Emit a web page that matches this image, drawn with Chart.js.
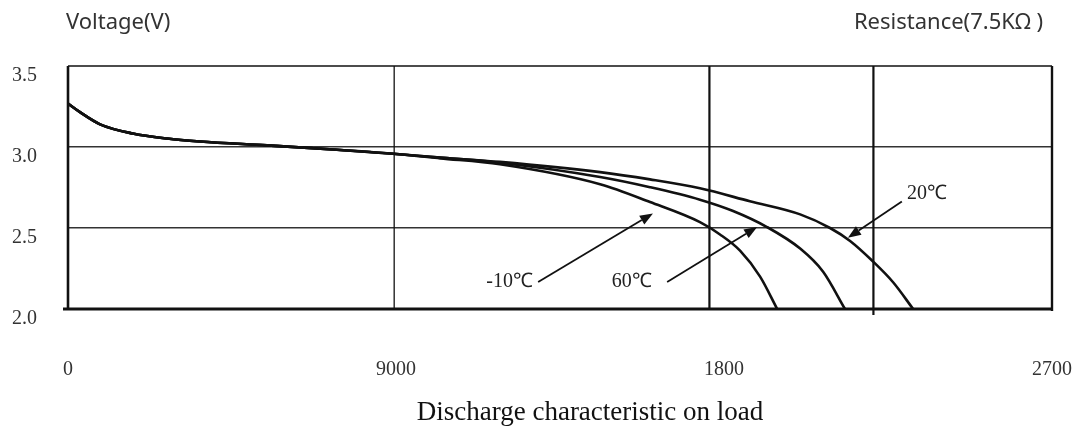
<!DOCTYPE html>
<html>
<head>
<meta charset="utf-8">
<script src="https://cdn.jsdelivr.net/npm/chart.js@4.4.0/dist/chart.umd.min.js"></script>
<style>
  html, body { margin: 0; padding: 0; background: #fff; }
</style>
</head>
<body>
<canvas id="grafico" width="1077" height="428"></canvas>
<script>
// shared start of the three curves (hours, volts)
const hoursBase = [0, 33, 88, 178, 272, 362, 546, 727, 892];
const voltsBase = [3.268, 3.215, 3.14, 3.083, 3.052, 3.034, 3.010, 2.985, 2.958];

// after the curves split
const hours20 = [1021, 1185, 1460, 1597, 1734, 1871, 2009, 2091, 2146, 2209, 2264, 2319];
const volts20 = [2.935, 2.908, 2.845, 2.800, 2.745, 2.665, 2.584, 2.500, 2.420, 2.293, 2.165, 2.0];
const hours60 = [1021, 1185, 1460, 1597, 1734, 1825, 1918, 2009, 2072, 2132];
const volts60 = [2.935, 2.903, 2.815, 2.752, 2.675, 2.605, 2.506, 2.373, 2.23, 2.0];
const hoursM10 = [1021, 1185, 1460, 1597, 1734, 1789, 1844, 1899, 1946];
const voltsM10 = [2.930, 2.893, 2.77, 2.66, 2.536, 2.46, 2.36, 2.20, 2.0];

// axes
const xTicks = [0, 900, 1800, 2700];
const xTickLabels = ["0", "9000", "1800", "2700"];
const yTicks = [2.0, 2.5, 3.0, 3.5];
const gridX = [895, 1760, 2210];

// callouts (data units)
const notes = [
  { text: "-10℃", x: 1276, y: 2.167, align: "right", from: [1290, 2.167], to: [1605, 2.59] },
  { text: "60℃", x: 1602, y: 2.167, align: "right", from: [1644, 2.167], to: [1891, 2.506] },
  { text: "20℃", x: 2302, y: 2.711, align: "left", from: [2288, 2.663], to: [2140, 2.44] }
];

function points(hs, vs) {
  return hs.map((h, i) => ({ x: h, y: vs[i] }));
}

function serie(hs, vs) {
  return {
    data: points(hoursBase.concat(hs), voltsBase.concat(vs)),
    borderColor: "#111",
    borderWidth: 2.6,
    pointRadius: 0,
    fill: false,
    cubicInterpolationMode: "monotone"
  };
}

const serif = "'Liberation Serif', 'Times New Roman', serif";

const framePlugin = {
  id: "frame",
  beforeDatasetsDraw(chart) {
    const { ctx, chartArea: a, scales: { x } } = chart;
    ctx.save();
    ctx.strokeStyle = "#111";
    gridX.forEach((v, i) => {
      const px = x.getPixelForValue(v);
      ctx.lineWidth = i === 0 ? 1.3 : 2.2;
      ctx.beginPath();
      ctx.moveTo(px, a.top);
      ctx.lineTo(px, i === 2 ? a.bottom + 6 : a.bottom);
      ctx.stroke();
    });
    // top and right
    ctx.lineWidth = 1.6;
    ctx.beginPath();
    ctx.moveTo(a.left, a.top);
    ctx.lineTo(a.right, a.top);
    ctx.stroke();
    ctx.lineWidth = 2.4;
    ctx.beginPath();
    ctx.moveTo(a.right, a.top);
    ctx.lineTo(a.right, a.bottom + 2);
    ctx.stroke();
    // left and bottom
    ctx.lineWidth = 2.6;
    ctx.beginPath();
    ctx.moveTo(a.left, a.top);
    ctx.lineTo(a.left, a.bottom);
    ctx.stroke();
    ctx.lineWidth = 3;
    ctx.beginPath();
    ctx.moveTo(a.left - 5, a.bottom);
    ctx.lineTo(a.right, a.bottom);
    ctx.stroke();
    ctx.restore();
  },
  afterDatasetsDraw(chart) {
    const { ctx, scales: { x, y } } = chart;
    ctx.save();
    ctx.fillStyle = "#222";
    ctx.strokeStyle = "#111";
    ctx.font = "20px " + serif;
    ctx.textBaseline = "middle";
    notes.forEach(n => {
      ctx.textAlign = n.align;
      ctx.fillText(n.text, x.getPixelForValue(n.x), y.getPixelForValue(n.y));
      const x1 = x.getPixelForValue(n.from[0]), y1 = y.getPixelForValue(n.from[1]);
      const x2 = x.getPixelForValue(n.to[0]), y2 = y.getPixelForValue(n.to[1]);
      const ang = Math.atan2(y2 - y1, x2 - x1);
      const len = 13, w = 5;
      const bx = x2 - len * Math.cos(ang), by = y2 - len * Math.sin(ang);
      ctx.lineWidth = 1.8;
      ctx.beginPath();
      ctx.moveTo(x1, y1);
      ctx.lineTo(bx, by);
      ctx.stroke();
      ctx.beginPath();
      ctx.moveTo(x2, y2);
      ctx.lineTo(bx + w * Math.sin(ang), by - w * Math.cos(ang));
      ctx.lineTo(bx - w * Math.sin(ang), by + w * Math.cos(ang));
      ctx.closePath();
      ctx.fillStyle = "#111";
      ctx.fill();
      ctx.fillStyle = "#222";
    });
    ctx.restore();
  },
  afterDraw(chart) {
    const { ctx } = chart;
    ctx.save();
    ctx.fillStyle = "#333";
    ctx.font = "22px 'Noto Sans', sans-serif";
    ctx.textBaseline = "middle";
    ctx.textAlign = "left";
    ctx.fillText("Voltage(V)", 66, 23);
    ctx.textAlign = "right";
    ctx.fillText("Resistance(7.5KΩ )", 1043, 23);
    ctx.fillStyle = "#111";
    ctx.font = "27px " + serif;
    ctx.textAlign = "center";
    ctx.textBaseline = "alphabetic";
    ctx.fillText("Discharge characteristic on load", 590, 420);
    ctx.restore();
  }
};

new Chart(document.getElementById("grafico"), {
  type: "line",
  data: {
    datasets: [serie(hours20, volts20), serie(hours60, volts60), serie(hoursM10, voltsM10)]
  },
  options: {
    responsive: false,
    animation: false,
    devicePixelRatio: 1,
    layout: { padding: { top: 66, right: 25, left: 0, bottom: 0 } },
    plugins: { legend: { display: false }, tooltip: { enabled: false } },
    scales: {
      x: {
        type: "linear",
        min: 0,
        max: 2700,
        afterBuildTicks: s => { s.ticks = xTicks.map(v => ({ value: v })); },
        afterFit: s => { s.height = 119; s.paddingLeft = 0; s.paddingRight = 0; },
        grid: { display: false },
        border: { display: false },
        ticks: {
          padding: 41,
          color: "#333",
          font: { family: serif, size: 20 },
          maxRotation: 0,
          callback: (v, i) => xTickLabels[i]
        }
      },
      y: {
        min: 2.0,
        max: 3.5,
        afterBuildTicks: s => { s.ticks = yTicks.map(v => ({ value: v })); },
        afterFit: s => { s.width = 68; s.paddingTop = 0; s.paddingBottom = 0; },
        border: { display: false },
        grid: {
          drawTicks: false,
          lineWidth: 1.5,
          color: c => (c.tick && (c.tick.value === 3 || c.tick.value === 2.5)) ? "#333" : "rgba(0,0,0,0)"
        },
        ticks: {
          padding: 31,
          labelOffset: 10,
          color: "#333",
          font: { family: serif, size: 20 },
          callback: v => v.toFixed(1)
        }
      }
    }
  },
  plugins: [framePlugin]
});
</script>
</body>
</html>
